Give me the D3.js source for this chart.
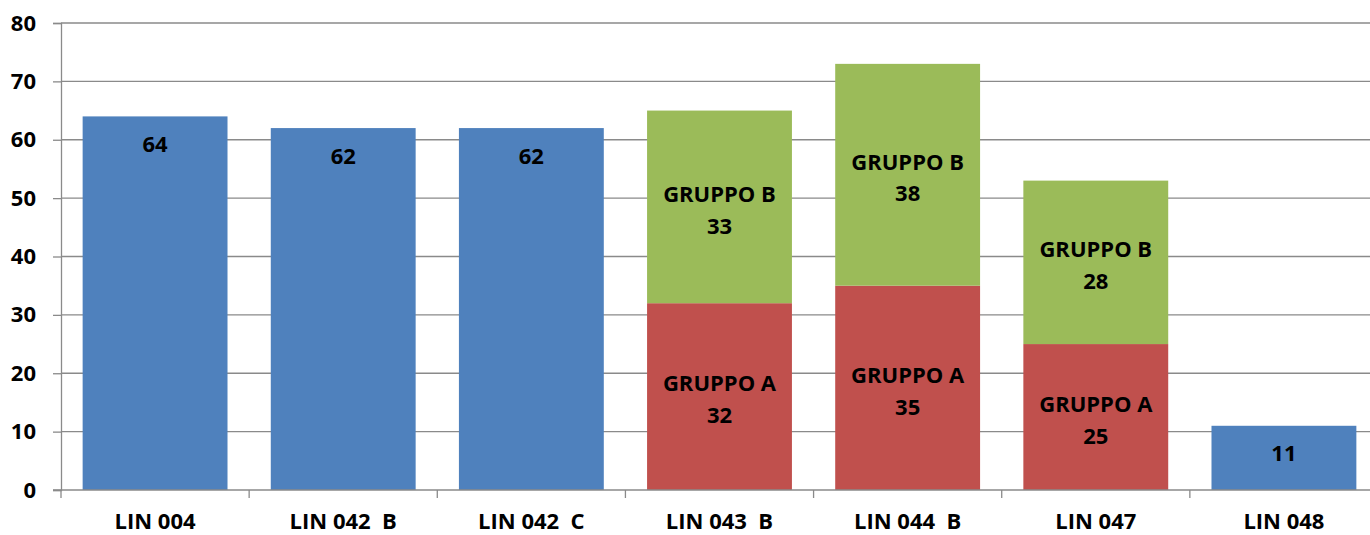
<!DOCTYPE html>
<html>
<head>
<meta charset="utf-8">
<script src="https://cdn.jsdelivr.net/npm/d3@7"></script>
<style>
  body { margin: 0; background: #fff; }
  svg { display: block; font-family: "Open Sans", "Noto Sans", sans-serif; font-weight: bold; }
  .tick text { white-space: pre; }
</style>
</head>
<body>
<div id="chart"></div>
<script>
const categories = ["LIN 004", "LIN 042  B", "LIN 042  C", "LIN 043  B", "LIN 044  B", "LIN 047", "LIN 048"];
const totals = [64, 62, 62, null, null, null, 11];
const gruppoA = [null, null, null, 32, 35, 25, null];
const gruppoB = [null, null, null, 33, 38, 28, null];
const yTicks = [0, 10, 20, 30, 40, 50, 60, 70, 80];

const width = 1370;
const height = 535;
const marginLeft = 61;
const marginTop = 23;
const marginBottom = 45;
const plotRight = 1378;
const fontSize = 22;

const colors = { total: "#4F81BD", a: "#C0504D", b: "#9BBB59" };
const gridColor = "#8a8a8a";

const svg = d3.select("#chart").append("svg")
  .attr("width", width)
  .attr("height", height);

const x = d3.scaleBand()
  .domain(categories)
  .range([marginLeft, plotRight])
  .paddingInner(0.23)
  .paddingOuter(0.115);

const y = d3.scaleLinear()
  .domain([0, 80])
  .range([height - marginBottom, marginTop]);

// gridlines
svg.append("g")
  .selectAll("line")
  .data(yTicks.filter((d) => d > 0))
  .join("line")
  .attr("x1", marginLeft)
  .attr("x2", width)
  .attr("y1", (d) => y(d))
  .attr("y2", (d) => y(d))
  .attr("stroke", gridColor)
  .attr("stroke-width", 1.3);

// y axis
svg.append("g")
  .attr("transform", `translate(${marginLeft},0)`)
  .call(d3.axisLeft(y).tickValues(yTicks).tickSize(8).tickPadding(17))
  .call((g) => g.select(".domain").attr("stroke", gridColor).attr("stroke-width", 1.3))
  .call((g) => g.selectAll(".tick line").attr("stroke", gridColor).attr("stroke-width", 1.3))
  .call((g) => g.selectAll(".tick text")
    .attr("fill", "#000")
    .attr("font-size", fontSize)
    .attr("font-family", "'Open Sans', sans-serif")
    .attr("font-weight", "bold"));

// rows for the bars
const rows = categories.map((c, i) => ({
  cat: c,
  total: totals[i],
  a: gruppoA[i],
  b: gruppoB[i],
}));

const segments = [];
rows.forEach((r) => {
  if (r.total != null) segments.push({ cat: r.cat, y0: 0, y1: r.total, color: colors.total, lines: [String(r.total)], single: true });
  if (r.a != null) segments.push({ cat: r.cat, y0: 0, y1: r.a, color: colors.a, lines: ["GRUPPO A", String(r.a)] });
  if (r.b != null) segments.push({ cat: r.cat, y0: r.a || 0, y1: (r.a || 0) + r.b, color: colors.b, lines: ["GRUPPO B", String(r.b)] });
});

svg.append("g")
  .selectAll("rect")
  .data(segments)
  .join("rect")
  .attr("x", (d) => x(d.cat))
  .attr("width", x.bandwidth())
  .attr("y", (d) => y(d.y1))
  .attr("height", (d) => y(d.y0) - y(d.y1))
  .attr("fill", (d) => d.color);

// x axis
svg.append("g")
  .attr("transform", `translate(0,${y(0)})`)
  .call((g) => g.append("line")
    .attr("x1", marginLeft - 8)
    .attr("x2", width)
    .attr("stroke", gridColor)
    .attr("stroke-width", 1.3))
  .call((g) => g.selectAll(".xtick")
    .data(categories)
    .join("line")
    .attr("class", "xtick")
    .attr("x1", (d) => x(d) - x.step() * x.paddingInner() / 2)
    .attr("x2", (d) => x(d) - x.step() * x.paddingInner() / 2)
    .attr("y1", 0)
    .attr("y2", 8)
    .attr("stroke", gridColor)
    .attr("stroke-width", 1.3))
  .call((g) => g.selectAll(".xlabel")
    .data(categories)
    .join("text")
    .attr("class", "xlabel")
    .attr("x", (d) => x(d) + x.bandwidth() / 2)
    .attr("y", 31)
    .attr("dy", "0.35em")
    .attr("text-anchor", "middle")
    .attr("font-size", fontSize)
    .style("white-space", "pre")
    .text((d) => d));

// data labels
const labelG = svg.append("g")
  .selectAll("g")
  .data(segments)
  .join("g")
  .attr("transform", (d) => {
    const cx = x(d.cat) + x.bandwidth() / 2;
    const cy = d.single ? y(d.y1) + 28 : (y(d.y0) + y(d.y1)) / 2 + 3;
    return `translate(${cx},${cy})`;
  });

labelG.selectAll("text")
  .data((d) => d.lines)
  .join("text")
  .attr("text-anchor", "middle")
  .attr("font-size", fontSize)
  .attr("fill", "#000")
  .attr("dy", (_, i, n) => `${(i - (n.length - 1) / 2) * 1.45 + 0.35}em`)
  .text((d) => d);
</script>
</body>
</html>
